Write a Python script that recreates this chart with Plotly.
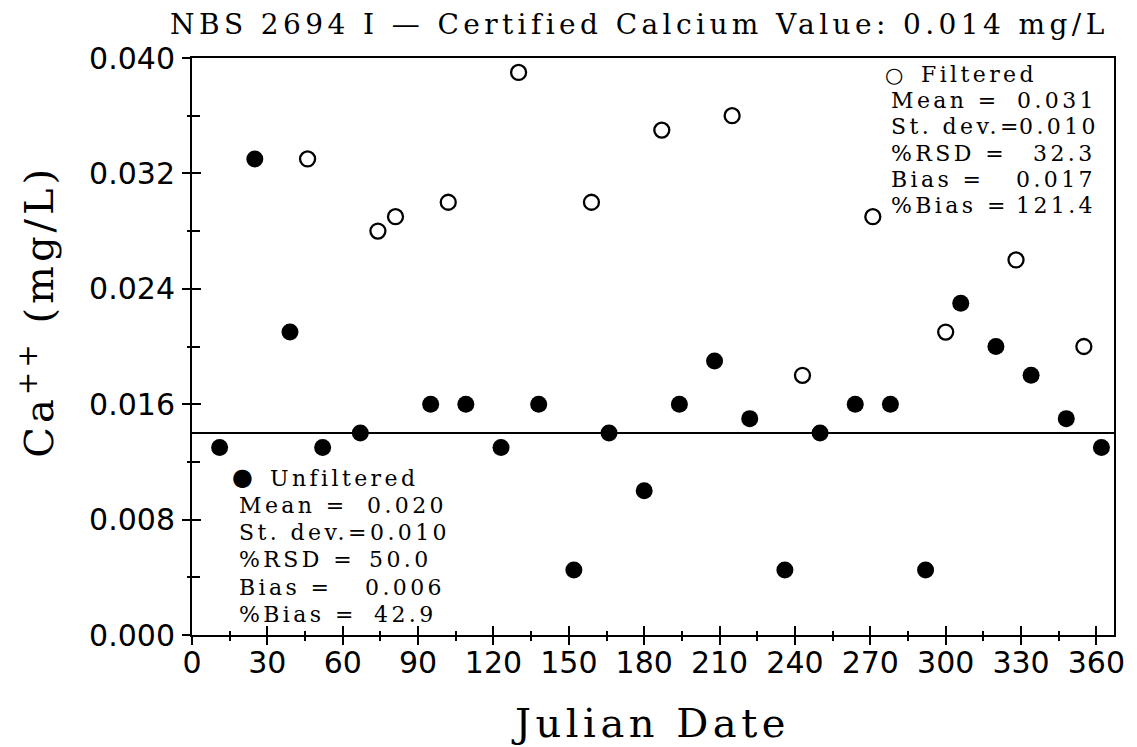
import plotly.graph_objects as go

# Julian date of each sample and the measured Ca++ concentration (mg/L)
unf_day = [11, 25, 39, 52, 67, 95, 109, 123, 138, 152, 166, 180, 194,
           208, 222, 236, 250, 264, 278, 292, 306, 320, 334, 348, 362]
unf_ca = [0.013, 0.033, 0.021, 0.013, 0.014, 0.016, 0.016, 0.013, 0.016,
          0.0045, 0.014, 0.010, 0.016, 0.019, 0.015, 0.0045, 0.014, 0.016,
          0.016, 0.0045, 0.023, 0.020, 0.018, 0.015, 0.013]

filt_day = [46, 74, 81, 102, 130, 159, 187, 215, 243, 271, 300, 328, 355]
filt_ca = [0.033, 0.028, 0.029, 0.030, 0.039, 0.030, 0.035, 0.036,
           0.018, 0.029, 0.021, 0.026, 0.020]

certified_ca = 0.014

x_major = list(range(0, 361, 30))
x_minor = list(range(15, 361, 30))
y_major = [0.000, 0.008, 0.016, 0.024, 0.032, 0.040]
y_minor = [0.004, 0.012, 0.020, 0.028, 0.036]
y_ticktext = ["0.000", "0.008", "0.016", "0.024", "0.032", "0.040"]

stat_labels = ["Mean =", "St. dev.=", "%RSD =", "Bias =", "%Bias ="]
unf_values = ["0.020", "0.010", "50.0", "0.006", "42.9"]
filt_values = ["0.031", "0.010", "32.3", "0.017", "121.4"]

title_text = "NBS 2694 I \u2014 Certified Calcium Value: 0.014 mg/L"
x_title = "Julian Date"
y_title = "Ca<sup>++</sup> (mg/L)"

W, H = 1137, 747
ML, MR, MT, MB = 192, 19, 58, 112
PW, PH = W - ML - MR, H - MT - MB
X_RANGE = [0, 367]
Y_RANGE = [0, 0.040]

SERIF = "DejaVu Serif"
SANS = "DejaVu Sans"


def px(xp):
    return (xp - ML) / PW


def py(yp):
    return (H - MB - yp) / PH


fig = go.Figure()

fig.add_trace(go.Scatter(
    x=unf_day, y=unf_ca, mode="markers",
    marker=dict(symbol="circle", size=17, color="black", line=dict(width=0)),
    name="Unfiltered", hoverinfo="x+y"))

fig.add_trace(go.Scatter(
    x=filt_day, y=filt_ca, mode="markers",
    marker=dict(symbol="circle", size=15, color="white",
                line=dict(width=2.3, color="black")),
    name="Filtered", hoverinfo="x+y"))

# empty trace that creates the overlay subplot carrying the outer tick marks
fig.add_trace(go.Scatter(x=[None], y=[None], xaxis="x2", yaxis="y2",
                         showlegend=False, hoverinfo="skip"))

# certified reference value
fig.add_hline(y=certified_ca, line=dict(color="black", width=2))

tick_font = dict(family=SANS, size=30, color="black")

fig.update_layout(
    width=W, height=H,
    margin=dict(l=ML, r=MR, t=MT, b=MB, pad=0),
    paper_bgcolor="white", plot_bgcolor="white",
    showlegend=False,
    xaxis=dict(
        range=X_RANGE, tickmode="array", tickvals=x_major,
        ticktext=[str(v) for v in x_major],
        ticks="inside", ticklen=9, tickwidth=2, tickcolor="black",
        minor=dict(tickmode="array", tickvals=x_minor, ticks="inside",
                   ticklen=4, tickwidth=2, tickcolor="black"),
        tickfont=tick_font, ticklabelstandoff=0,
        showline=True, linecolor="black", linewidth=2, mirror=True,
        showgrid=False, zeroline=False),
    xaxis2=dict(
        overlaying="x", anchor="y2", side="bottom",
        range=X_RANGE, tickmode="array", tickvals=x_major,
        ticks="outside", ticklen=9, tickwidth=2, tickcolor="black",
        minor=dict(tickmode="array", tickvals=x_minor, ticks="outside",
                   ticklen=5, tickwidth=2, tickcolor="black"),
        showticklabels=False, showline=False, showgrid=False,
        zeroline=False),
    yaxis=dict(
        range=Y_RANGE, tickmode="array", tickvals=y_major,
        ticktext=y_ticktext,
        ticks="inside", ticklen=9, tickwidth=2, tickcolor="black",
        minor=dict(tickmode="array", tickvals=y_minor, ticks="inside",
                   ticklen=8, tickwidth=2, tickcolor="black"),
        tickfont=tick_font, ticklabelstandoff=9,
        showline=True, linecolor="black", linewidth=2, mirror=True,
        showgrid=False, zeroline=False),
    yaxis2=dict(
        overlaying="y", anchor="x2", side="left",
        range=Y_RANGE, tickmode="array", tickvals=y_major,
        ticks="outside", ticklen=9, tickwidth=2, tickcolor="black",
        minor=dict(tickmode="array", tickvals=y_minor, ticks="outside",
                   ticklen=4, tickwidth=2, tickcolor="black"),
        showticklabels=False, showline=False, showgrid=False,
        zeroline=False),
)

annotations = []


def add_text(text, x, y, size, family=SERIF, xanchor="left", angle=0,
             spacing=0.0):
    if spacing:
        text = "<span style='letter-spacing:%.1fpx'>%s</span>" % (spacing, text)
    annotations.append(dict(
        text=text, x=px(x), y=py(y), xref="paper", yref="paper",
        xanchor=xanchor, yanchor="middle", showarrow=False,
        textangle=angle, font=dict(family=family, size=size, color="black")))


# titles
add_text(title_text, 641.5, 24, 28, xanchor="center", spacing=4.4)
add_text(x_title, 652.5, 722.8, 40, xanchor="center", spacing=4.5)
add_text(y_title, 36, 311, 40, xanchor="center", angle=-90, spacing=4)

STAT_SIZE = 22
STAT_LS = 3.4

# key and statistics for the unfiltered samples (lower left)
unf_left = 236.7
unf_right = [447, 450, 432, 445, 437]
add_text("\u25cf", 242.3, 476.7, 24, family=SANS, xanchor="center")
add_text("Unfiltered", 268, 478.6, STAT_SIZE, spacing=STAT_LS)
for i, (lab, val) in enumerate(zip(stat_labels, unf_values)):
    yc = 512.9 + 27.2 * i - 7.4
    add_text(lab, unf_left, yc, STAT_SIZE, spacing=STAT_LS)
    add_text(val, unf_right[i] + STAT_LS, yc, STAT_SIZE, xanchor="right",
             spacing=STAT_LS)

# key and statistics for the filtered samples (upper right)
filt_left = 892.3
filt_right = [1099.5, 1101.5, 1099, 1099, 1099]
add_text("\u25cb", 897, 75, 21, family=SANS, xanchor="center")
add_text("Filtered", 922.5, 74.3, STAT_SIZE, spacing=STAT_LS)
for i, (lab, val) in enumerate(zip(stat_labels, filt_values)):
    yc = 108.0 + 26.3 * i - 7.4
    add_text(lab, filt_left, yc, STAT_SIZE, spacing=STAT_LS)
    add_text(val, filt_right[i] + STAT_LS, yc, STAT_SIZE, xanchor="right",
             spacing=STAT_LS)

fig.update_layout(annotations=annotations)

fig.write_html("out.html")
